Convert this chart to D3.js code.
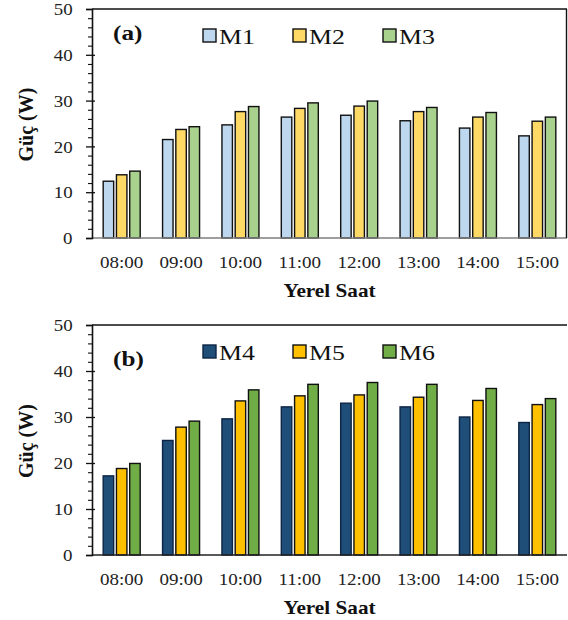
<!DOCTYPE html>
<html><head><meta charset="utf-8">
<script src="https://cdn.jsdelivr.net/npm/d3@7"></script>
<style>body{margin:0;background:#fff}svg{display:block}</style>
</head><body>
<script>
const categories = ["08:00","09:00","10:00","11:00","12:00","13:00","14:00","15:00"];
const m1 = [12.4, 21.5, 24.7, 26.4, 26.8, 25.6, 24.0, 22.3];
const m2 = [13.8, 23.7, 27.6, 28.3, 28.8, 27.6, 26.4, 25.5];
const m3 = [14.6, 24.3, 28.7, 29.5, 29.9, 28.5, 27.4, 26.4];
const m4 = [17.2, 24.9, 29.6, 32.2, 33.0, 32.2, 30.0, 28.8];
const m5 = [18.8, 27.8, 33.5, 34.6, 34.8, 34.3, 33.6, 32.7];
const m6 = [19.9, 29.1, 35.9, 37.1, 37.5, 37.1, 36.2, 34.0];
const yTicks = [0, 10, 20, 30, 40, 50];
const yMinorTicks = [2,4,6,8,12,14,16,18,22,24,26,28,32,34,36,38,42,44,46,48];

const panels = [
  {label:"(a)", top:9, bottom:238, rightBorder:true, baseColor:"#7f7f7f", labelDy:31,
   series:[{name:"M1", values:m1, fill:"#BDD7EE", stroke:"#111"},
           {name:"M2", values:m2, fill:"#FFD966", stroke:"#111"},
           {name:"M3", values:m3, fill:"#A9D18E", stroke:"#111"}]},
  {label:"(b)", top:325, bottom:555, rightBorder:false, baseColor:"#222", labelDy:41,
   series:[{name:"M4", values:m4, fill:"#1F4E79", stroke:"#0d2444"},
           {name:"M5", values:m5, fill:"#FFC000", stroke:"#111"},
           {name:"M6", values:m6, fill:"#70AD47", stroke:"#111"}]}
];

const W = 568, H = 620, left = 92, right = 567;
const svg = d3.select("body").append("svg").attr("width", W).attr("height", H)
  .style("font-family", "'Liberation Serif','Times New Roman',serif");

function stretchText(g, x, y, txt, size, weight, sx, anchor) {
  return g.append("text")
    .attr("transform", `translate(${x},${y}) scale(${sx},1)`)
    .attr("text-anchor", anchor || "start")
    .attr("font-size", size).attr("font-weight", weight || "normal")
    .attr("fill", "#111").text(txt);
}

panels.forEach(p => {
  const g = svg.append("g");
  const x0 = d3.scaleBand().domain(categories).range([left, right]).padding(0);
  const x1 = d3.scaleBand().domain(p.series.map(s => s.name)).range([-18.5, 18.5]).paddingInner(0.21);
  const y = d3.scaleLinear().domain([0, 50]).range([p.bottom, p.top]);

  // bars
  p.series.forEach(s => {
    g.append("g").selectAll("rect").data(s.values).join("rect")
      .attr("x", (d, i) => x0(categories[i]) + x0.bandwidth() / 2 + x1(s.name))
      .attr("y", d => y(d))
      .attr("width", x1.bandwidth())
      .attr("height", d => y(0) - y(d))
      .attr("fill", s.fill).attr("stroke", s.stroke).attr("stroke-width", 1.4);
  });

  // baseline (x axis)
  g.append("line").attr("x1", left).attr("x2", right).attr("y1", y(0)).attr("y2", y(0))
    .attr("stroke", p.baseColor).attr("stroke-width", 1.5);
  // top border
  g.append("line").attr("x1", left).attr("x2", right).attr("y1", y(50)).attr("y2", y(50))
    .attr("stroke", "#111").attr("stroke-width", 1.6);
  if (p.rightBorder) {
    g.append("line").attr("x1", right - 0.5).attr("x2", right - 0.5).attr("y1", y(50)).attr("y2", y(0))
      .attr("stroke", "#111").attr("stroke-width", 1.4);
  }

  // y axis major
  const ax = g.append("g").attr("transform", `translate(${left},0)`)
    .call(d3.axisLeft(y).tickValues(yTicks).tickSize(6).tickPadding(12).tickFormat(d3.format("d")));
  ax.select(".domain").attr("stroke", "#111").attr("stroke-width", 1.6);
  ax.selectAll(".tick line").attr("stroke", "#111").attr("stroke-width", 1.3);
  ax.selectAll(".tick text").attr("font-size", 17.5).attr("fill", "#222")
    .attr("font-family", "'Liberation Serif','Times New Roman',serif")
    .attr("transform", "scale(1.08,1)");
  // inner part of major ticks
  const axIn = g.append("g").attr("transform", `translate(${left},0)`)
    .call(d3.axisLeft(y).tickValues(yTicks.slice(1, -1)).tickSize(-3).tickFormat(""));
  axIn.select(".domain").remove();
  axIn.selectAll(".tick line").attr("stroke", "#111").attr("stroke-width", 1.3);
  // minor ticks
  const axMin = g.append("g").attr("transform", `translate(${left},0)`)
    .call(d3.axisLeft(y).tickValues(yMinorTicks).tickSize(4).tickFormat(""));
  axMin.select(".domain").remove();
  axMin.selectAll(".tick line").attr("stroke", "#111").attr("stroke-width", 1.1);

  // x tick labels
  g.append("g").selectAll("text").data(categories).join("text")
    .attr("transform", d => `translate(${x0(d) + x0.bandwidth() / 2},${p.bottom + 30}) scale(1.12,1)`)
    .attr("text-anchor", "middle").attr("font-size", 17).attr("fill", "#222").text(d => d);

  // x title
  stretchText(g, (left + right) / 2, p.bottom + 59, "Yerel Saat", 18, "bold", 1.18, "middle");

  // y title
  g.append("text")
    .attr("transform", `translate(33,${(p.top + p.bottom) / 2 + 1}) rotate(-90)`)
    .attr("text-anchor", "middle").attr("font-size", 20).attr("font-weight", "bold")
    .attr("fill", "#111").text("Güç (W)");

  // panel label
  stretchText(g, left + 21, p.top + p.labelDy, p.label, 21, "bold", 1.2);

  // legend
  const legY = p.top + 20;
  p.series.forEach((s, i) => {
    const lx = 203 + i * 90;
    g.append("rect").attr("x", lx).attr("y", legY).attr("width", 13).attr("height", 13)
      .attr("fill", s.fill).attr("stroke", s.stroke).attr("stroke-width", 1.4);
    stretchText(g, lx + 16, legY + 14.5, s.name, 21.5, "normal", 1.2);
  });
});
</script>
</body></html>
